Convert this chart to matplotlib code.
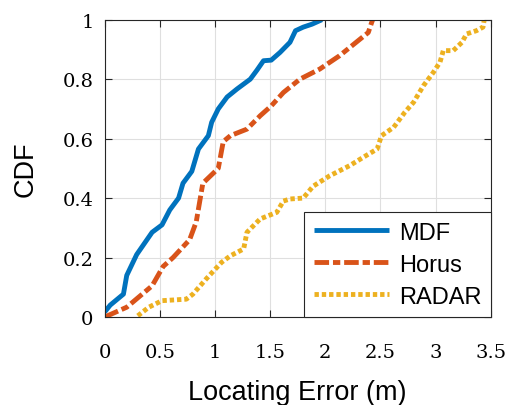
import numpy as np
import matplotlib
matplotlib.use("Agg")
import matplotlib.pyplot as plt

# CDF curves
mdf_x = [0, 0.05, 0.17, 0.2, 0.29, 0.43, 0.52, 0.59, 0.67, 0.71, 0.79, 0.85, 0.94, 0.97,
         1.03, 1.11, 1.20, 1.32, 1.38, 1.44, 1.51, 1.59, 1.68, 1.73, 1.80, 1.88, 1.97]
mdf_y = [0.017, 0.04, 0.077, 0.14, 0.21, 0.285, 0.31, 0.36, 0.40, 0.45, 0.49, 0.565, 0.61, 0.655,
         0.70, 0.74, 0.767, 0.80, 0.83, 0.862, 0.864, 0.89, 0.924, 0.963, 0.975, 0.985, 1.0]

horus_x = [0, 0.2, 0.43, 0.53, 0.62, 0.77, 0.83, 0.89, 1.03, 1.075, 1.14, 1.29, 1.41, 1.51,
           1.62, 1.77, 1.95, 2.13, 2.28, 2.39, 2.42, 2.43]
horus_y = [0, 0.033, 0.105, 0.17, 0.20, 0.26, 0.32, 0.45, 0.50, 0.59, 0.61, 0.632, 0.677, 0.71,
           0.755, 0.80, 0.834, 0.879, 0.924, 0.957, 0.99, 1.0]

radar_x = [0.30, 0.40, 0.52, 0.74, 0.80, 0.92, 1.06, 1.14, 1.26, 1.29, 1.41, 1.56, 1.62, 1.68,
           1.80, 1.89, 2.04, 2.22, 2.37, 2.47, 2.51, 2.62, 2.72, 2.80, 2.89, 2.98, 3.04, 3.07,
           3.16, 3.24, 3.28, 3.37, 3.43, 3.44]
radar_y = [0.004, 0.033, 0.055, 0.06, 0.077, 0.128, 0.184, 0.206, 0.229, 0.285, 0.33, 0.352, 0.39, 0.397,
           0.40, 0.44, 0.475, 0.509, 0.543, 0.565, 0.61, 0.638, 0.688, 0.722, 0.778, 0.823, 0.857, 0.896,
           0.896, 0.924, 0.952, 0.963, 0.975, 0.997]

x_ticks = [0, 0.5, 1, 1.5, 2, 2.5, 3, 3.5]
x_labels = ["0", "0.5", "1", "1.5", "2", "2.5", "3", "3.5"]
y_ticks = [0, 0.2, 0.4, 0.6, 0.8, 1]
y_labels = ["0", "0.2", "0.4", "0.6", "0.8", "1"]

fig = plt.figure(figsize=(5.19, 4.06), dpi=100)
ax = fig.add_axes([0.2017, 0.2167, 0.7438, 0.7323])

lw = 3.5
ax.plot(mdf_x, mdf_y, color="#0072BD", lw=lw, label="MDF", solid_capstyle="butt")
ax.plot(horus_x, horus_y, color="#D95319", lw=lw, label="Horus",
        dashes=(3, 0.8, 1.5, 0.8), dash_capstyle="butt")
ax.plot(radar_x, radar_y, color="#EDB120", lw=lw, label="RADAR",
        dashes=(0.9, 0.6), dash_capstyle="butt")

ax.set_xlim(0, 3.5)
ax.set_ylim(0, 1)
ax.set_xticks(x_ticks)
ax.set_xticklabels(x_labels, family="DejaVu Serif", fontsize=14)
ax.set_yticks(y_ticks)
ax.set_yticklabels(y_labels, family="DejaVu Serif", fontsize=14)
ax.tick_params(direction="in", top=True, right=True, length=5, width=0.8, color="#262626")
ax.tick_params(axis="x", pad=19)
ax.tick_params(axis="y", pad=8)
ax.grid(True, color="#DFDFDF", lw=0.8)
for s in ax.spines.values():
    s.set_color("#262626")
    s.set_linewidth(0.8)

ax.set_xlabel("Locating Error (m)", family="Liberation Sans", fontsize=19.5, labelpad=12.5)
ax.set_ylabel("CDF", family="Liberation Sans", fontsize=19.5, labelpad=17)

leg = ax.legend(loc="lower right", prop={"family": "Liberation Sans", "size": 17},
                borderaxespad=0, fancybox=False, framealpha=1, edgecolor="#262626",
                handlelength=3.2, labelspacing=0.42, handletextpad=0.4)
leg.get_frame().set_linewidth(0.8)

fig.savefig("out.png", dpi=100)
